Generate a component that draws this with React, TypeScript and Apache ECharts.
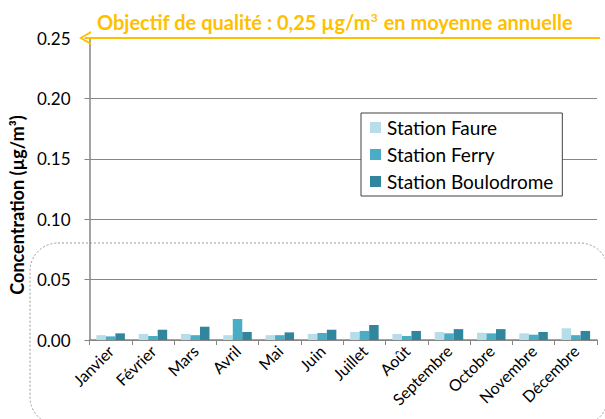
import React, { useEffect, useRef } from "react";
import * as echarts from "echarts";

const months = ["Janvier", "Février", "Mars", "Avril", "Mai", "Juin", "Juillet", "Août", "Septembre", "Octobre", "Novembre", "Décembre"];
const faure = [0.004, 0.005, 0.005, 0.004, 0.004, 0.005, 0.0066, 0.005, 0.0066, 0.006, 0.0055, 0.0097];
const ferry = [0.003, 0.0033, 0.004, 0.0174, 0.004, 0.0058, 0.0075, 0.0033, 0.0055, 0.0055, 0.0044, 0.004];
const boulodrome = [0.0055, 0.0085, 0.011, 0.0066, 0.0063, 0.0085, 0.0124, 0.0075, 0.009, 0.009, 0.0066, 0.0075];
const seriesNames = ["Station Faure", "Station Ferry", "Station Boulodrome"];
const colors = ["#b7dde8", "#4bacc6", "#31859c"];
const objective = 0.25;

const FONT = "Lato";

export default function App() {
  const ref = useRef<HTMLDivElement>(null);
  useEffect(() => {
    if (!ref.current) return;
    const chart = echarts.init(ref.current, null, { renderer: "svg" });
    const data = [faure, ferry, boulodrome];
    chart.setOption({
      animation: false,
      backgroundColor: "#ffffff",
      textStyle: { fontFamily: FONT },
      title: {
        left: 92,
        top: 6,
        text: "{a|Objectif de qualité : 0,25 µg/m}{s|3}{a| en moyenne annuelle}",
        textStyle: {
          rich: {
            a: { fontFamily: FONT, fontWeight: "bold", fontSize: 20, color: "#ffc000" },
            s: { fontFamily: FONT, fontWeight: "bold", fontSize: 12, color: "#ffc000", verticalAlign: "top", padding: [0, 1, 9, 0] },
          },
        },
      },
      grid: { left: 83, right: 8, top: 38, bottom: 79 },
      legend: {
        orient: "vertical",
        left: 361,
        top: 113,
        padding: [5, 9, 5, 9],
        itemGap: 8,
        itemWidth: 11,
        itemHeight: 11,
        borderColor: "#404040",
        borderWidth: 1,
        borderRadius: 0,
        backgroundColor: "#ffffff",
        icon: "rect",
        textStyle: { fontFamily: FONT, fontSize: 19, lineHeight: 19, color: "#000000", padding: [0, 0, 0, 1] },
        data: seriesNames,
      },
      graphic: [
        {
          type: "rect",
          z: -1,
          shape: { x: 30, y: 243, width: 578, height: 182, r: 28 },
          style: { fill: "none", stroke: "#9a9a9a", lineWidth: 1, lineDash: [2, 2] },
        },
      ],
      xAxis: {
        type: "category",
        data: months,
        axisLine: { lineStyle: { color: "#868686", width: 1.5 } },
        axisTick: { show: true, alignWithLabel: false, length: 5, lineStyle: { color: "#868686" } },
        axisLabel: { rotate: 45, fontFamily: FONT, fontSize: 16, color: "#000000", margin: 8, interval: 0 },
      },
      yAxis: {
        type: "value",
        min: 0,
        max: 0.25,
        interval: 0.05,
        name: "Concentration (µg/m³)",
        nameLocation: "middle",
        nameGap: 60,
        nameTextStyle: { fontFamily: FONT, fontWeight: "bold", fontSize: 18, color: "#000000", padding: [0, 32, 0, 0] },
        axisLine: { show: true, lineStyle: { color: "#868686", width: 1.5 } },
        axisTick: { show: true, length: 5, lineStyle: { color: "#868686" } },
        axisLabel: { fontFamily: FONT, fontSize: 17, color: "#000000", margin: 19, formatter: (v: number) => v.toFixed(2) },
        splitLine: { lineStyle: { color: "#878787", width: 1 } },
      },
      series: seriesNames.map((name, i) => ({
        name,
        type: "bar",
        data: data[i],
        barWidth: 9.5,
        barGap: "0%",
        itemStyle: { color: colors[i] },
        ...(i === 0
          ? {
              markLine: {
                silent: true,
                symbol: ["path://M0,9 L5,0 L10,9 L8.4,9 L5,2.6 L1.6,9 Z", "none"],
                symbolSize: [14, 12],
                symbolOffset: [0, 5],
                label: { show: false },
                lineStyle: { color: "#ffc000", width: 2, type: "solid" },
                data: [[{ coord: [0, objective], x: 85 }, { coord: [11, objective], x: 600 }]],
              },
            }
          : {}),
      })),
    });
    return () => chart.dispose();
  }, []);
  return <div ref={ref} style={{ position: "fixed", left: 0, top: 0, width: 605, height: 419 }} />;
}
